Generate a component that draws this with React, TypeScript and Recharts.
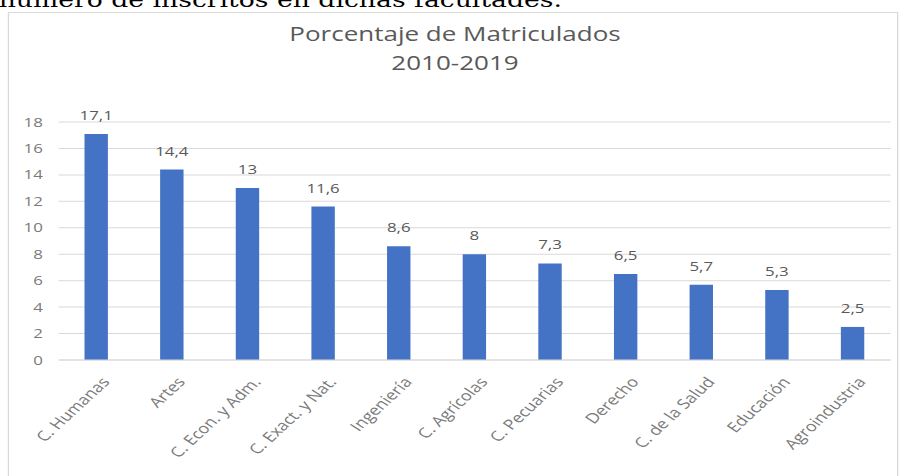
import React from "react";
import { BarChart, Bar, XAxis, YAxis, CartesianGrid, LabelList } from "recharts";

const categories = [
  "C. Humanas",
  "Artes",
  "C. Econ. y Adm.",
  "C. Exact. y Nat.",
  "Ingeniería",
  "C. Agrícolas",
  "C. Pecuarias",
  "Derecho",
  "C. de la Salud",
  "Educación",
  "Agroindustria",
];
const values = [17.1, 14.4, 13, 11.6, 8.6, 8, 7.3, 6.5, 5.7, 5.3, 2.5];
const yTicks = [0, 2, 4, 6, 8, 10, 12, 14, 16, 18];
const titleLines = ["Porcentaje de Matriculados", "2010-2019"];
const topText = "número de inscritos en dichas facultades.";

const data = categories.map((c, i) => ({ name: c, value: values[i] }));

const FONT = "'Open Sans', sans-serif";
const GRAY = "#595959";
const TICK_GRAY = "#7a7a7a";
const SX = 1.3; // the reference image is stretched horizontally
const W = 694;

const XTick = (props: any) => {
  const { x, y, payload } = props;
  return (
    <g transform={`translate(${x + 8},${y + 12})`}>
      <text
        x={0}
        y={0}
        transform="rotate(-50)"
        textAnchor="end"
        dominantBaseline="middle"
        fill={TICK_GRAY}
        fontSize={14}
        fontFamily={FONT}
      >
        {payload.value}
      </text>
    </g>
  );
};

export default function App() {
  return (
    <div style={{ position: "absolute", left: 0, top: 0, width: 902, height: 476, overflow: "hidden", background: "#fff" }}>
      <div
        style={{
          position: "absolute",
          left: 0,
          top: 0,
          width: W,
          height: 476,
          transform: `scaleX(${SX})`,
          transformOrigin: "0 0",
        }}
      >
        <svg width={W} height={40} style={{ position: "absolute", left: 0, top: 0 }}>
          <text x={-1} y={7} fontFamily="'DejaVu Serif', serif" fontSize={20.5} fill="#000">
            {topText}
          </text>
        </svg>
        <div
          style={{
            position: "absolute",
            left: 6,
            top: 12,
            width: 685,
            height: 480,
            border: "1px solid #d9d9d9",
            boxSizing: "border-box",
          }}
        />
        <div style={{ position: "absolute", left: 0, top: 0 }}>
          <BarChart
            width={W}
            height={476}
            data={data}
            margin={{ top: 122, right: 9, bottom: 0, left: 10 }}
          >
            <CartesianGrid vertical={false} stroke="#d9d9d9" />
            <XAxis
              dataKey="name"
              interval={0}
              height={116}
              tickLine={false}
              axisLine={{ stroke: "#d9d9d9" }}
              tick={<XTick />}
            />
            <YAxis
              domain={[0, 18]}
              ticks={yTicks}
              width={35}
              tickLine={false}
              axisLine={false}
              tick={{ fill: TICK_GRAY, fontSize: 13, fontFamily: FONT }}
              tickMargin={6}
            />
            <Bar dataKey="value" fill="#4472C4" barSize={18} isAnimationActive={false}>
              <LabelList
                dataKey="value"
                position="top"
                offset={14}
                fill={GRAY}
                fontSize={13}
                fontFamily={FONT}
                formatter={(v: any) => String(v).replace(".", ",")}
              />
            </Bar>
          </BarChart>
        </div>
        <svg width={W} height={80} style={{ position: "absolute", left: 0, top: 0 }}>
          <text x={350} y={41} textAnchor="middle" fontFamily={FONT} fontSize={20} fill={GRAY}>
            {titleLines[0]}
          </text>
          <text x={350} y={70} textAnchor="middle" fontFamily={FONT} fontSize={20} fill={GRAY}>
            {titleLines[1]}
          </text>
        </svg>
      </div>
    </div>
  );
}
